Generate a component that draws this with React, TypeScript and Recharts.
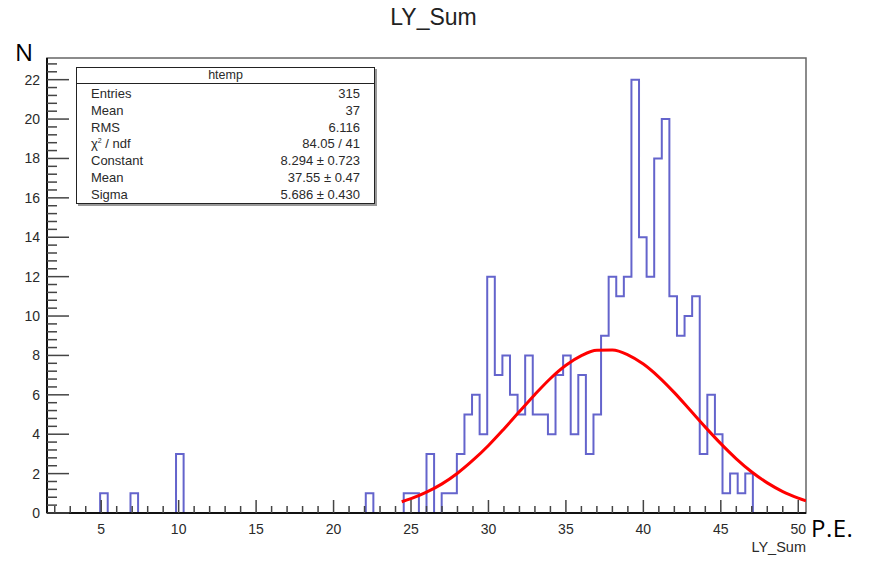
import { LineChart, Line, XAxis, YAxis, ReferenceArea } from "recharts";

// histogram "htemp" of LY_Sum: 100 bins from 1.5 to 50.5
const xMin = 1.5;
const xMax = 50.5;
const binWidth = 0.49;
const binCounts = [
  0, 0, 0, 0, 0, 0, 0, 1, 0, 0,
  0, 1, 0, 0, 0, 0, 0, 3, 0, 0,
  0, 0, 0, 0, 0, 0, 0, 0, 0, 0,
  0, 0, 0, 0, 0, 0, 0, 0, 0, 0,
  0, 0, 1, 0, 0, 0, 0, 1, 1, 0,
  3, 0, 1, 1, 3, 5, 6, 4, 12, 7,
  8, 6, 5, 8, 5, 5, 4, 7, 8, 4,
  7, 3, 5, 9, 12, 11, 12, 22, 14, 12,
  18, 20, 11, 9, 10, 11, 3, 6, 4, 1,
  2, 1, 2, 0, 0, 0, 0, 0, 0, 0,
];

// gaussian fit curve
const fitX = [24.4, 25, 26, 27, 28, 29, 30, 31, 32, 33, 34, 35, 36, 37, 38, 39, 40, 41, 42, 43, 44, 45, 46, 47, 48, 49, 50, 50.5];
const fitY = [0.57, 0.73, 1.06, 1.48, 2.02, 2.68, 3.43, 4.27, 5.15, 6.02, 6.83, 7.5, 7.99, 8.26, 8.27, 8.03, 7.56, 6.9, 6.11, 5.24, 4.36, 3.52, 2.75, 2.08, 1.53, 1.09, 0.76, 0.62];

const yMax = 23.1;
const xTicks = Array.from({ length: 49 }, (_, i) => i + 2);
const yTicks = Array.from({ length: 58 }, (_, i) => Number((i * 0.4).toFixed(1)));

const statsRows = [
  ["Entries", "315"],
  ["Mean", "37"],
  ["RMS", "6.116"],
  ["chi", "84.05 / 41"],
  ["Constant", "8.294 \u00b1 0.723"],
  ["Mean", "37.55 \u00b1 0.47"],
  ["Sigma", "5.686 \u00b1 0.430"],
];

const histData = [
  ...binCounts.map((n, i) => ({ x: xMin + i * binWidth, n })),
  { x: xMax, n: 0 },
];
const fitData = fitX.map((x, i) => ({ x, f: fitY[i] }));

const rootFont = "'Liberation Sans', Arial, sans-serif";

const XTick = (props: any) => {
  const { x, y, payload } = props;
  const v = payload.value;
  const major = v % 5 === 0;
  return (
    <g>
      <line x1={x} x2={x} y1={y} y2={y - (major ? 13 : 7)} stroke="#444" strokeWidth={1.5} />
      {major && (
        <text x={x} y={y + 21} textAnchor="middle" fontSize={14} fill="#2a2a2a" fontFamily={rootFont}>
          {v}
        </text>
      )}
    </g>
  );
};

const YTick = (props: any) => {
  const { x, y, payload } = props;
  const v = payload.value;
  const major = Math.abs(v / 2 - Math.round(v / 2)) < 1e-6;
  return (
    <g>
      <line x1={x} x2={x + (major ? 22 : 10)} y1={y} y2={y} stroke="#444" strokeWidth={1.5} />
      {major && (
        <text x={x - 7} y={y} dy="0.35em" textAnchor="end" fontSize={14} fill="#2a2a2a" fontFamily={rootFont}>
          {v}
        </text>
      )}
    </g>
  );
};

export default function App() {
  return (
    <div style={{ position: "absolute", left: 0, top: 0, width: 879, height: 586, background: "#fff" }}>
      <LineChart width={879} height={586} margin={{ top: 58, right: 73, bottom: 43, left: 0 }}>
        <XAxis
          dataKey="x"
          type="number"
          domain={[xMin, xMax]}
          allowDataOverflow
          ticks={xTicks}
          interval={0}
          tick={<XTick />}
          tickLine={false}
          tickSize={0}
          tickMargin={0}
          height={30}
          axisLine={{ stroke: "#111", strokeWidth: 2 }}
        />
        <YAxis
          type="number"
          domain={[0, yMax]}
          allowDataOverflow
          ticks={yTicks}
          interval={0}
          tick={<YTick />}
          tickLine={false}
          tickSize={0}
          tickMargin={0}
          width={47}
          axisLine={{ stroke: "#111", strokeWidth: 2 }}
        />
        <ReferenceArea x1={xMin} x2={xMax} y1={0} y2={yMax} fill="none" stroke="#666" strokeWidth={1.5} />
        <Line
          data={histData}
          dataKey="n"
          type="stepAfter"
          stroke="#6464cc"
          strokeWidth={2}
          dot={false}
          isAnimationActive={false}
        />
        <Line
          data={fitData}
          dataKey="f"
          type="monotone"
          stroke="#ff0000"
          strokeWidth={3}
          dot={false}
          isAnimationActive={false}
        />
      </LineChart>

      <div style={{ position: "absolute", left: 0, width: 879, top: 4, textAlign: "center", fontFamily: rootFont, fontSize: 23, color: "#222" }}>
        <span style={{ marginLeft: -12 }}>LY_Sum</span>
      </div>
      <div style={{ position: "absolute", left: 15, top: 35, fontFamily: "'Open Sans', sans-serif", fontSize: 24, color: "#000" }}>N</div>
      <div style={{ position: "absolute", left: 811, top: 511, fontFamily: "'Open Sans', sans-serif", fontSize: 24, letterSpacing: 0.5, color: "#000" }}>P.E.</div>
      <div style={{ position: "absolute", right: 879 - 806, top: 539, fontFamily: rootFont, fontSize: 14.5, color: "#2a2a2a" }}>LY_Sum</div>

      <div
        style={{
          position: "absolute",
          left: 76,
          top: 67,
          width: 297,
          height: 135,
          border: "1.5px solid #222",
          boxShadow: "2px 2px 0 #999",
          background: "#fff",
          fontFamily: rootFont,
          fontSize: 13,
          color: "#2a2a2a",
        }}
      >
        <div style={{ height: 15, lineHeight: "15px", textAlign: "center", borderBottom: "1.5px solid #222", fontSize: 12.5 }}>htemp</div>
        <div style={{ padding: "2px 14px 0 14px" }}>
          {statsRows.map(([k, v], i) => (
            <div key={i} style={{ display: "flex", justifyContent: "space-between", height: 16.8, lineHeight: "16.8px" }}>
              <span>
                {k === "chi" ? (
                  <>
                    {"\u03c7"}
                    <span style={{ fontSize: 7, position: "relative", top: -5 }}>2</span>
                    {" / ndf"}
                  </>
                ) : (
                  k
                )}
              </span>
              <span>{v}</span>
            </div>
          ))}
        </div>
      </div>
    </div>
  );
}
